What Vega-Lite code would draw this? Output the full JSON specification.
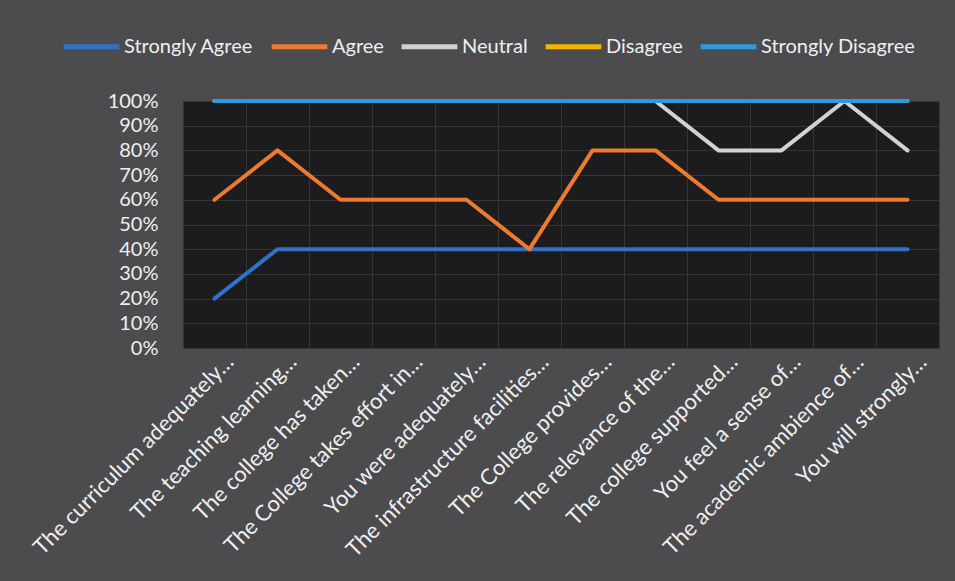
{
  "$schema": "https://vega.github.io/schema/vega-lite/v6.json",
  "autosize": {"type": "none"},
  "width": 756,
  "height": 247,
  "padding": {"left": 183, "top": 101, "right": 16, "bottom": 233},
  "background": "#4c4c4f",
  "config": {
    "view": {"fill": "#1c1c1f", "stroke": null},
    "font": "Lato"
  },
  "data": {
    "values": [
      {"q": "The curriculum adequately…", "series": "Strongly Agree", "value": 0.2},
      {"q": "The teaching learning…", "series": "Strongly Agree", "value": 0.4},
      {"q": "The college has taken…", "series": "Strongly Agree", "value": 0.4},
      {"q": "The College takes effort in…", "series": "Strongly Agree", "value": 0.4},
      {"q": "You were adequately…", "series": "Strongly Agree", "value": 0.4},
      {"q": "The infrastructure facilities…", "series": "Strongly Agree", "value": 0.4},
      {"q": "The College provides…", "series": "Strongly Agree", "value": 0.4},
      {"q": "The relevance of the…", "series": "Strongly Agree", "value": 0.4},
      {"q": "The college supported…", "series": "Strongly Agree", "value": 0.4},
      {"q": "You feel a sense of…", "series": "Strongly Agree", "value": 0.4},
      {"q": "The academic ambience of…", "series": "Strongly Agree", "value": 0.4},
      {"q": "You will strongly…", "series": "Strongly Agree", "value": 0.4},

      {"q": "The curriculum adequately…", "series": "Agree", "value": 0.6},
      {"q": "The teaching learning…", "series": "Agree", "value": 0.8},
      {"q": "The college has taken…", "series": "Agree", "value": 0.6},
      {"q": "The College takes effort in…", "series": "Agree", "value": 0.6},
      {"q": "You were adequately…", "series": "Agree", "value": 0.6},
      {"q": "The infrastructure facilities…", "series": "Agree", "value": 0.4},
      {"q": "The College provides…", "series": "Agree", "value": 0.8},
      {"q": "The relevance of the…", "series": "Agree", "value": 0.8},
      {"q": "The college supported…", "series": "Agree", "value": 0.6},
      {"q": "You feel a sense of…", "series": "Agree", "value": 0.6},
      {"q": "The academic ambience of…", "series": "Agree", "value": 0.6},
      {"q": "You will strongly…", "series": "Agree", "value": 0.6},

      {"q": "The curriculum adequately…", "series": "Neutral", "value": 1.0},
      {"q": "The teaching learning…", "series": "Neutral", "value": 1.0},
      {"q": "The college has taken…", "series": "Neutral", "value": 1.0},
      {"q": "The College takes effort in…", "series": "Neutral", "value": 1.0},
      {"q": "You were adequately…", "series": "Neutral", "value": 1.0},
      {"q": "The infrastructure facilities…", "series": "Neutral", "value": 1.0},
      {"q": "The College provides…", "series": "Neutral", "value": 1.0},
      {"q": "The relevance of the…", "series": "Neutral", "value": 1.0},
      {"q": "The college supported…", "series": "Neutral", "value": 0.8},
      {"q": "You feel a sense of…", "series": "Neutral", "value": 0.8},
      {"q": "The academic ambience of…", "series": "Neutral", "value": 1.0},
      {"q": "You will strongly…", "series": "Neutral", "value": 0.8},

      {"q": "The curriculum adequately…", "series": "Disagree", "value": 1.0},
      {"q": "The teaching learning…", "series": "Disagree", "value": 1.0},
      {"q": "The college has taken…", "series": "Disagree", "value": 1.0},
      {"q": "The College takes effort in…", "series": "Disagree", "value": 1.0},
      {"q": "You were adequately…", "series": "Disagree", "value": 1.0},
      {"q": "The infrastructure facilities…", "series": "Disagree", "value": 1.0},
      {"q": "The College provides…", "series": "Disagree", "value": 1.0},
      {"q": "The relevance of the…", "series": "Disagree", "value": 1.0},
      {"q": "The college supported…", "series": "Disagree", "value": 1.0},
      {"q": "You feel a sense of…", "series": "Disagree", "value": 1.0},
      {"q": "The academic ambience of…", "series": "Disagree", "value": 1.0},
      {"q": "You will strongly…", "series": "Disagree", "value": 1.0},

      {"q": "The curriculum adequately…", "series": "Strongly Disagree", "value": 1.0},
      {"q": "The teaching learning…", "series": "Strongly Disagree", "value": 1.0},
      {"q": "The college has taken…", "series": "Strongly Disagree", "value": 1.0},
      {"q": "The College takes effort in…", "series": "Strongly Disagree", "value": 1.0},
      {"q": "You were adequately…", "series": "Strongly Disagree", "value": 1.0},
      {"q": "The infrastructure facilities…", "series": "Strongly Disagree", "value": 1.0},
      {"q": "The College provides…", "series": "Strongly Disagree", "value": 1.0},
      {"q": "The relevance of the…", "series": "Strongly Disagree", "value": 1.0},
      {"q": "The college supported…", "series": "Strongly Disagree", "value": 1.0},
      {"q": "You feel a sense of…", "series": "Strongly Disagree", "value": 1.0},
      {"q": "The academic ambience of…", "series": "Strongly Disagree", "value": 1.0},
      {"q": "You will strongly…", "series": "Strongly Disagree", "value": 1.0}
    ]
  },
  "mark": {"type": "line", "strokeWidth": 4, "strokeCap": "round", "strokeJoin": "round"},
  "encoding": {
    "x": {
      "field": "q",
      "type": "nominal",
      "sort": null,
      "bandPosition": 0.5,
      "scale": {"type": "band", "paddingInner": 0, "paddingOuter": 0},
      "axis": {
        "title": null,
        "labelAngle": -45,
        "labelAlign": "right",
        "labelBaseline": "middle",
        "labelFontSize": 22,
        "labelColor": "#efefef",
        "labelPadding": 10,
        "labelOffset": 15,
        "labelLimit": 400,
        "domain": false,
        "ticks": false,
        "tickBand": "extent",
        "grid": true,
        "gridColor": "#353535",
        "gridWidth": 1
      }
    },
    "y": {
      "field": "value",
      "type": "quantitative",
      "scale": {"domain": [0, 1], "nice": false},
      "axis": {
        "title": null,
        "format": ".0%",
        "values": [0, 0.1, 0.2, 0.3, 0.4, 0.5, 0.6, 0.7, 0.8, 0.9, 1.0],
        "labelFontSize": 20,
        "labelColor": "#efefef",
        "labelPadding": 25,
        "domain": false,
        "ticks": false,
        "grid": true,
        "gridColor": "#353535",
        "gridWidth": 1
      }
    },
    "color": {
      "field": "series",
      "type": "nominal",
      "sort": ["Strongly Agree", "Agree", "Neutral", "Disagree", "Strongly Disagree"],
      "scale": {
        "domain": ["Strongly Agree", "Agree", "Neutral", "Disagree", "Strongly Disagree"],
        "range": ["#2f73c9", "#ee7a30", "#d2d2d2", "#f2b800", "#2d9ae0"]
      },
      "legend": {
        "title": null,
        "orient": "none",
        "direction": "horizontal",
        "legendX": -122,
        "legendY": -85,
        "symbolType": "stroke",
        "symbolSize": 3100,
        "symbolStrokeWidth": 5,
        "labelFontSize": 20,
        "labelColor": "#efefef",
        "labelOffset": 2,
        "columnPadding": 7
      }
    }
  }
}
